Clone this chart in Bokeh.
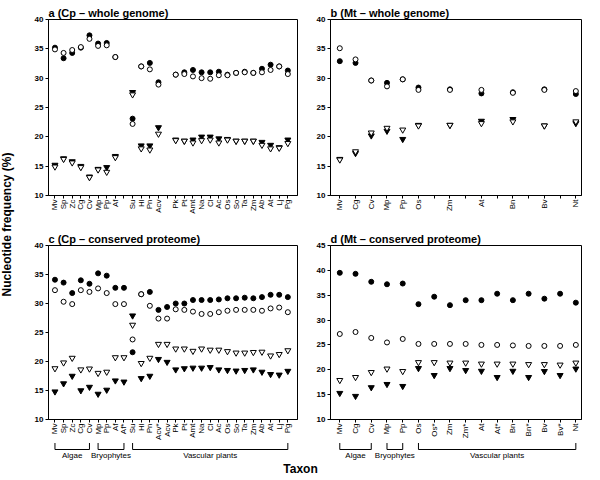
import math
import numpy as np
from bokeh.plotting import figure
from bokeh.layouts import row, column
from bokeh.models import Range1d, FixedTicker, Label
from bokeh.embed import file_html
from bokeh.resources import INLINE
from bokeh.core.properties import value

# ---------------- data ----------------
cats_a = ["Mv", "Sp", "Zc", "Cg", "Cv", "Mp", "Pp", "Af", "", "Su", "Hl", "Pn", "Acv", "",
          "Pk", "Pt", "Amt", "Na", "Cl", "Ac", "Os", "So", "Ta", "Zm", "Ab", "At", "Lj", "Pg"]
a_filled_circle = [35.2, 33.4, 34.3, 35.2, 37.3, 35.9, 36.0, 33.6, None, 23.1, 32.0, 32.6, 29.3, None,
                   30.6, 31.0, 31.4, 31.0, 31.0, 31.1, 30.6, 30.9, 31.1, 30.9, 31.6, 32.3, 32.0, 31.3]
a_open_circle = [34.9, 34.3, 34.8, 35.3, 36.7, 35.5, 35.6, 33.6, None, 22.2, 32.0, 31.5, 28.9, None,
                 30.6, 30.7, 30.3, 30.0, 29.9, 30.5, 30.5, 30.9, 31.0, 30.9, 31.0, 31.4, 32.0, 30.7]
a_filled_tri = [15.2, 16.3, 15.8, 15.0, 13.2, 14.5, 14.8, 16.7, None, 27.6, 18.5, 18.5, 21.6, None,
                19.5, 19.3, 19.5, 20.0, 20.0, 19.7, 19.6, 19.3, 19.3, 19.3, 19.1, 18.6, 18.2, 19.5]
a_open_tri = [14.9, 16.2, 15.6, 14.8, 13.1, 14.4, 14.0, 16.5, None, 27.2, 18.0, 17.8, 20.5, None,
              19.4, 19.3, 19.0, 19.4, 19.5, 19.0, 19.5, 19.3, 19.3, 19.3, 18.6, 18.0, 18.1, 18.9]

cats_b = ["Mv", "Cg", "Cv", "Mp", "Pp", "Os", "", "Zm", "", "At", "", "Bn", "", "Bv", "", "Nt"]
b_filled_circle = [32.9, 32.6, 29.6, 29.2, 29.8, 28.4, None, 28.1, None, 27.4, None, 27.6, None, 28.1, None, 27.3]
b_open_circle = [35.1, 33.2, 29.6, 28.6, 29.8, 28.0, None, 28.0, None, 28.0, None, 27.5, None, 28.0, None, 27.8]
b_filled_tri = [16.2, 17.2, 20.2, 21.0, 19.6, 22.0, None, 22.0, None, 22.7, None, 23.0, None, 21.9, None, 22.3]
b_open_tri = [16.1, 17.5, 20.7, 21.5, 21.2, 21.9, None, 22.0, None, 22.3, None, 22.6, None, 21.9, None, 22.6]

cats_c = ["Mv", "Sp", "Zc", "Cg", "Cv", "Mp", "Pp", "Af", "Af*", "Su", "Hl", "Pn", "Acv*", "Acv",
          "Pk", "Pt", "Amt", "Na", "Cl", "Ac", "Os", "So", "Ta", "Zm", "Ab", "At", "Lj", "Pg"]
c_filled_circle = [34.1, 33.6, 31.8, 34.0, 33.4, 35.2, 34.8, 32.7, 32.7, 21.6, 31.6, 32.0, 28.9, 29.4,
                   30.0, 30.0, 30.6, 30.6, 30.6, 30.7, 30.9, 30.9, 31.0, 30.9, 31.1, 31.5, 31.5, 31.1]
c_open_circle = [32.3, 30.3, 29.9, 32.3, 32.0, 32.6, 31.8, 29.9, 29.9, 23.8, 31.6, 29.6, 27.4, 27.4,
                 29.0, 28.9, 28.6, 28.2, 28.2, 28.5, 28.75, 28.9, 28.9, 28.9, 28.75, 29.15, 29.3, 28.5]
c_filled_tri = [14.8, 16.2, 17.5, 15.0, 15.6, 14.4, 15.1, 16.7, 16.5, 27.9, 17.1, 17.5, 20.4, 19.9,
                18.6, 18.8, 18.9, 18.9, 19.0, 18.6, 18.5, 18.4, 18.5, 18.6, 18.2, 17.8, 17.7, 18.35]
c_open_tri = [18.8, 19.8, 20.6, 18.6, 18.75, 18.0, 18.2, 20.7, 20.7, 26.3, 19.7, 20.6, 23.0, 23.0,
              22.2, 22.2, 21.8, 22.2, 22.0, 22.0, 21.75, 21.5, 21.5, 21.6, 21.65, 21.0, 21.25, 21.9]

cats_d = ["Mv", "Cg", "Cv", "Mp", "Pp", "Os", "Os*", "Zm", "Zm*", "At", "At*", "Bn", "Bn*", "Bv", "Bv*", "Nt"]
d_filled_circle = [39.5, 39.3, 37.7, 37.2, 37.35, 33.2, 34.7, 33.0, 34.0, 34.0, 35.3, 34.0, 35.3, 34.3, 35.3, 33.5]
d_open_circle = [27.2, 27.6, 26.4, 25.5, 26.2, 25.2, 25.2, 25.2, 25.2, 25.0, 25.0, 24.9, 24.8, 24.8, 24.8, 25.0]
d_filled_tri = [15.3, 14.7, 16.45, 17.1, 16.7, 20.3, 18.9, 20.3, 19.9, 19.75, 18.5, 19.75, 18.5, 19.7, 18.9, 20.2]
d_open_tri = [17.9, 18.5, 19.5, 20.2, 19.7, 21.5, 21.5, 21.4, 21.4, 21.2, 21.2, 21.2, 21.1, 21.1, 21.0, 21.4]

group_names = ["Algae", "Bryophytes", "Vascular plants"]
c_group_first = ["Mv", "Mp", "Su"]
c_group_last = ["Cv", "Af*", "Pg"]
d_group_first = ["Mv", "Mp", "Os"]
d_group_last = ["Cv", "Pp", "Nt"]

yticks_40 = [10, 15, 20, 25, 30, 35, 40]
yticks_45 = [10, 15, 20, 25, 30, 35, 40, 45]

# ---------------- styling ----------------
FONT = "Liberation Sans"


def to_arr(v):
    return np.array([np.nan if x is None else x for x in v], dtype=float)


def blank_fig(width, height, xr, yr, mbl=0, mbr=0):
    f = figure(width=width, height=height, x_range=xr, y_range=yr,
               output_backend="svg", toolbar_location=None, x_axis_location=None, y_axis_location=None,
               min_border_left=mbl, min_border_right=mbr, min_border_top=0, min_border_bottom=0)
    f.outline_line_color = None
    f.xgrid.visible = False
    f.ygrid.visible = False
    return f


def panel(title, cats, fc, oc, ft, ot, yr, yticks, width, height, mbl, mbr, mbt, mbb, xr):
    p = figure(width=width, height=height, x_range=xr, y_range=Range1d(*yr),
               output_backend="svg", toolbar_location=None,
               min_border_left=mbl, min_border_right=mbr, min_border_top=mbt, min_border_bottom=mbb)
    p.xgrid.visible = False
    p.ygrid.visible = False
    p.outline_line_color = "black"
    p.outline_line_width = 1

    p.title.text = title
    p.title.align = "left"
    p.title.offset = 0
    p.title.standoff = 1
    p.title.text_font = FONT
    p.title.text_font_style = "bold"
    p.title.text_font_size = "11px"
    p.title.text_color = "black"

    xs = list(range(1, len(cats) + 1))
    p.xaxis.ticker = FixedTicker(ticks=xs)
    p.xaxis.major_label_overrides = {x: c for x, c in zip(xs, cats)}
    p.xaxis.major_label_orientation = math.pi / 2
    p.yaxis.ticker = FixedTicker(ticks=yticks)
    for ax in (p.xaxis, p.yaxis):
        ax.minor_tick_line_color = None
        ax.major_tick_out = 3
        ax.major_tick_in = 0
        ax.major_label_standoff = 1
        ax.axis_line_color = "black"
        ax.major_tick_line_color = "black"
        ax.major_label_text_font = FONT
        ax.major_label_text_font_size = "8px"
        ax.major_label_text_color = "black"
    p.yaxis.major_label_text_font_style = "bold"
    p.yaxis.major_label_standoff = 2

    x = np.array(xs, dtype=float)
    p.scatter(x, to_arr(fc), marker="circle", size=5, fill_color="black", line_color="black")
    p.scatter(x, to_arr(ft), marker="inverted_triangle", size=6, fill_color="black", line_color="black")
    p.scatter(x, to_arr(oc), marker="circle", size=5, fill_color="white", line_color="black", line_width=1)
    p.scatter(x, to_arr(ot), marker="inverted_triangle", size=6, fill_color="white", line_color="black",
              line_width=1)
    return p


BR_H = 18


def bracket_fig(width, mbl, mbr, xr, cats, firsts, lasts):
    f = blank_fig(width, BR_H, xr, Range1d(0, BR_H), mbl, mbr)
    y_top, y_bot, y_txt = BR_H - 0.5, BR_H - 7, 5
    x0s, y0s, x1s, y1s, tx, tt = [], [], [], [], [], []
    for name, fi, la in zip(group_names, firsts, lasts):
        a = cats.index(fi) + 1
        b = cats.index(la) + 1
        for seg in [(a, y_top, a, y_bot), (a, y_bot, b, y_bot), (b, y_bot, b, y_top)]:
            x0s.append(seg[0]); y0s.append(seg[1]); x1s.append(seg[2]); y1s.append(seg[3])
        tx.append((a + b) / 2)
        tt.append(name)
    f.segment(x0=x0s, y0=y0s, x1=x1s, y1=y1s, line_color="black", line_width=1)
    f.text(x=tx, y=[y_txt] * len(tx), text=tt, text_align="center", text_baseline="middle",
           text_font=value(FONT), text_font_size="8px", text_color="black")
    return f


xr_cp_a = Range1d(0.25, 29.12)
xr_mt_b = Range1d(0.41, 16.36)
xr_cp_c = Range1d(0.25, 29.12)
xr_mt_d = Range1d(0.41, 16.36)

pa = panel("a (Cp \u2013 whole genome)", cats_a, a_filled_circle, a_open_circle, a_filled_tri, a_open_tri,
           (10, 40), yticks_40, 291, 228, 26, 16, 19, 33, xr_cp_a)
pb = panel("b (Mt \u2013 whole genome)", cats_b, b_filled_circle, b_open_circle, b_filled_tri, b_open_tri,
           (10, 40), yticks_40, 279, 228, 17, 11, 19, 33, xr_mt_b)
pc = panel("c (Cp \u2013 conserved proteome)", cats_c, c_filled_circle, c_open_circle, c_filled_tri, c_open_tri,
           (10, 40), yticks_40, 291, 214, 26, 16, 17, 21, xr_cp_c)
pd = panel("d (Mt \u2013 conserved proteome)", cats_d, d_filled_circle, d_open_circle, d_filled_tri, d_open_tri,
           (10, 45), yticks_45, 279, 214, 17, 11, 17, 21, xr_mt_d)

bc = bracket_fig(291, 26, 16, xr_cp_c, cats_c, c_group_first, c_group_last)
bd = bracket_fig(279, 17, 11, xr_mt_d, cats_d, d_group_first, d_group_last)

# y-axis title figure
YL_W, YL_H = 22, 476
yl = blank_fig(YL_W, YL_H, Range1d(0, YL_W), Range1d(0, YL_H))
yl.add_layout(Label(x=6, y=YL_H - 224, text="Nucleotide frequency (%)", angle=math.pi / 2,
                    text_align="center", text_baseline="middle", text_font=FONT,
                    text_font_style="bold", text_font_size="12px", text_color="black"))

# x-axis title figure
TX_W, TX_H = 570, 16
tx = blank_fig(TX_W, TX_H, Range1d(0, TX_W), Range1d(0, TX_H))
tx.add_layout(Label(x=300 - YL_W, y=TX_H / 2, text="Taxon", text_align="center", text_baseline="middle",
                    text_font=FONT, text_font_style="bold", text_font_size="12px", text_color="black"))

layout = row(yl, column(row(pa, pb), row(pc, pd), row(bc, bd), tx))

open("out.html", "w").write(file_html(layout, INLINE))
